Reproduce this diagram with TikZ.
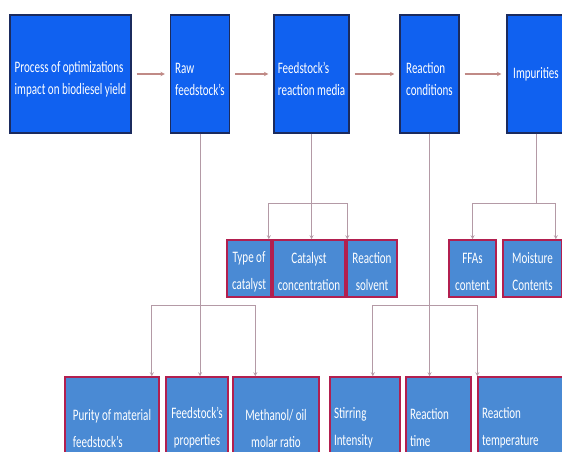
\documentclass[tikz,border=0pt]{standalone}
\usepackage{fontspec}
\setmainfont{Carlito}[FakeStretch=0.69]
\usetikzlibrary{calc, positioning}

\definecolor{topblue}{HTML}{1061F0}
\definecolor{topedge}{HTML}{1B2B5E}
\definecolor{subblue}{HTML}{4A8AD4}
\definecolor{subedge}{HTML}{B21F4F}
\definecolor{linkgray}{HTML}{B49AA6}
\definecolor{flowrose}{HTML}{C08A86}

% invisible strut that pushes a block of lines down
\newcommand{\drop}[1]{\rule{0pt}{#1}}

\begin{document}
\begin{tikzpicture}[x=1pt, y=-1pt,
  topbox/.style={draw=topedge, line width=1.2pt, fill=topblue, text=white,
    minimum height=118, inner sep=0pt, align=left, font=\fontsize{16}{22}\selectfont},
  subbox/.style={draw=subedge, line width=1.5pt, fill=subblue, text=white,
    minimum height=57, inner sep=0pt, align=center, font=\fontsize{16}{27}\selectfont},
  leafbox/.style={subbox, minimum height=102},
  flow/.style={flowrose, line width=1pt, -stealth, shorten <=5pt, shorten >=5pt},
  link/.style={linkgray, line width=0.8pt},
  linkarrow/.style={link, -stealth}]

  \useasboundingbox (0,0) rectangle (562,452);
  \clip (0,0) rectangle (562,452);

  % main chain
  \node[topbox, minimum width=121] (proc)  at (70.5,74)  {\drop{22pt}Process of optimizations\\impact on biodiesel yield};
  \node[topbox, minimum width=59]  (raw)   at (200,74)   {\drop{22pt}Raw\\feedstock's};
  \node[topbox, minimum width=75]  (media) at (311.5,74) {\drop{22pt}Feedstock's\\reaction media};
  \node[topbox, minimum width=59]  (cond)  at (429.5,74) {\drop{22pt}Reaction\\conditions};
  \node[topbox, minimum width=58]  (imp)   at (536,74)   {Impurities};

  \draw[flow] (proc)  to (raw);
  \draw[flow] (raw)   to (media);
  \draw[flow] (media) to (cond);
  \draw[flow] (cond)  to (imp);

  % middle row
  \node[subbox, minimum width=44] (cattype) at (249,268.5)   {\drop{18pt}Type of\\catalyst};
  \node[subbox, minimum width=72] (catconc) at (309,268.5)   {\drop{18pt}Catalyst\\concentration};
  \node[subbox, minimum width=50] (solvent) at (372,268.5)   {\drop{18pt}Reaction\\solvent};
  \node[subbox, minimum width=47] (ffa)     at (472.5,268.5) {\drop{18pt}FFAs\\content};
  \node[subbox, minimum width=59] (moist)   at (532.5,268.5) {\drop{18pt}Moisture\\Contents};

  % bottom row
  \node[leafbox, minimum width=94, align=left] (purity) at (112,428) {Purity of material\\feedstock's};
  \node[leafbox, minimum width=62] (props)    at (197,428) {Feedstock's\\properties};
  \node[leafbox, minimum width=86] (methanol) at (276,428) {Methanol/ oil\\molar ratio};
  \node[leafbox, minimum width=70, text width=62, align=left] (stirring) at (365,428)   {Stirring\\Intensity};
  \node[leafbox, minimum width=65, text width=57, align=left] (rtime)    at (438.5,428) {Reaction\\time};
  \node[leafbox, minimum width=92, text width=84, align=left] (rtemp)    at (524,428)   {Reaction\\temperature};

  \coordinate (upfork)  at (0,203);
  \coordinate (lowfork) at (0,305);

  % reaction media branch
  \draw[link] (media.south) to (media.south |- upfork);
  \draw[linkarrow] (media.south |- upfork) -| ([xshift=-3]cattype.north east);
  \draw[linkarrow] (media.south |- upfork) to (media.south |- catconc.north);
  \draw[linkarrow] (media.south |- upfork) -| ([xshift=1]solvent.north west);

  % impurities branch
  \draw[link] (imp.south) to (imp.south |- upfork);
  \draw[linkarrow] (imp.south |- upfork) -| (ffa.north);
  \draw[linkarrow] (imp.south |- upfork) -| ([xshift=-7]moist.north east);

  % feedstock branch
  \draw[linkarrow] (raw.south) to (raw.south |- props.north);
  \draw[linkarrow] (raw.south |- lowfork) -| ([xshift=-8]purity.north east);
  \draw[linkarrow] (raw.south |- lowfork) -| ([xshift=23]methanol.north west);

  % conditions branch
  \draw[linkarrow] (cond.south) to (cond.south |- rtime.north);
  \draw[linkarrow] (cond.south |- lowfork) -| ([xshift=-28]stirring.north east);
  \draw[linkarrow] (cond.south |- lowfork) -| (rtemp.north west);

\end{tikzpicture}
\end{document}
